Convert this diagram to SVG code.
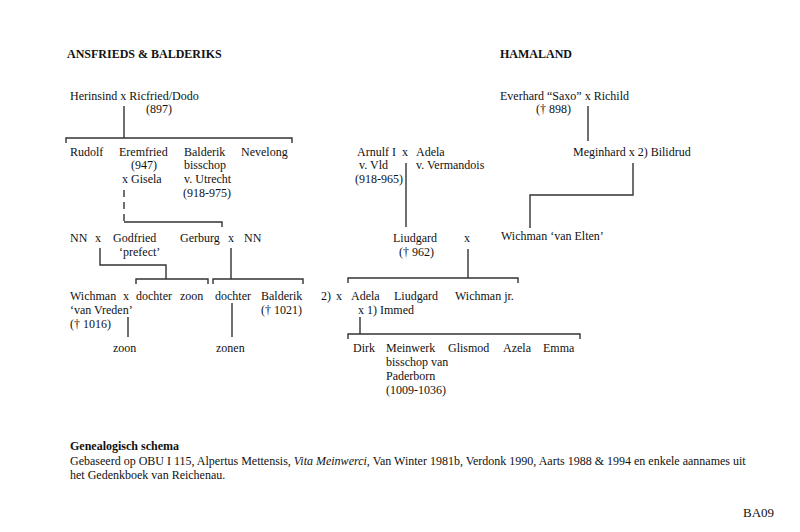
<svg xmlns="http://www.w3.org/2000/svg" width="800" height="532" viewBox="0 0 800 532">
<style>
text{font-family:"Liberation Serif","Times New Roman",serif;font-size:12px;fill:#111}
.b{font-weight:bold}
.ln{stroke:#333;stroke-width:1.4;fill:none}
.d{stroke-dasharray:7 5}
</style>
<rect width="800" height="532" fill="#fff"/>
<text class="b" x="67" y="58">ANSFRIEDS &amp; BALDERIKS</text>
<text class="b" x="500" y="58">HAMALAND</text>

<g id="connectors">
<path class="ln" d="M124 106V138M66 143V138H292V143"/>
<path class="ln d" d="M124 190V222"/>
<path class="ln" d="M124 222H222V227"/>
<path class="ln" d="M100 248V265H166V279M136 284V279H208V284"/>
<path class="ln" d="M231 248V279M213 284V279H303V284"/>
<path class="ln" d="M128 317V337M232 303V337"/>
<path class="ln" d="M588 106V141"/>
<path class="ln" d="M633 163V195H530V228"/>
<path class="ln" d="M406 163V227"/>
<path class="ln" d="M468 249V278M348 283V278H518V283"/>
<path class="ln" d="M360 317V334M348 339V334H580V339"/>
</g>

<g id="herinsind"><text x="70" y="100">Herinsind x Ricfried/Dodo</text><text x="146" y="113">(897)</text></g>
<g id="rudolf"><text x="70" y="156">Rudolf</text></g>
<g id="eremfried"><text x="119" y="156">Eremfried</text><text x="131" y="169">(947)</text><text x="122" y="183">x Gisela</text></g>
<g id="balderik1"><text x="184" y="156">Balderik</text><text x="184" y="169">bisschop</text><text x="184" y="183">v. Utrecht</text><text x="183" y="197">(918-975)</text></g>
<g id="nevelong"><text x="241" y="156">Nevelong</text></g>
<g id="godfried"><text x="70" y="242">NN</text><text x="95" y="242">x</text><text x="113" y="242">Godfried</text><text x="119" y="256">‘prefect’</text></g>
<g id="gerburg"><text x="180" y="242">Gerburg</text><text x="228" y="242">x</text><text x="244" y="242">NN</text></g>
<g id="wichman-vreden"><text x="70" y="300">Wichman</text><text x="123" y="300">x</text><text x="70" y="314">‘van Vreden’</text><text x="70" y="328">(† 1016)</text></g>
<g id="dochter1"><text x="136" y="300">dochter</text></g>
<g id="zoon1"><text x="180" y="300">zoon</text></g>
<g id="dochter2"><text x="215" y="300">dochter</text></g>
<g id="balderik2"><text x="261" y="300">Balderik</text><text x="261" y="314">(† 1021)</text></g>
<g id="zoon2"><text x="113" y="352">zoon</text></g>
<g id="zonen"><text x="216" y="352">zonen</text></g>

<g id="everhard"><text x="500" y="100">Everhard “Saxo” x Richild</text><text x="536" y="113">(† 898)</text></g>
<g id="meginhard"><text x="573" y="156">Meginhard x 2) Bilidrud</text></g>
<g id="wichman-elten"><text x="501" y="240">Wichman ‘van Elten’</text></g>
<g id="arnulf"><text x="357" y="156">Arnulf I</text><text x="402" y="156">x</text><text x="359" y="169">v. Vld</text><text x="355" y="183">(918-965)</text></g>
<g id="adela1"><text x="416" y="156">Adela</text><text x="416" y="169">v. Vermandois</text></g>
<g id="liudgard"><text x="393" y="242">Liudgard</text><text x="399" y="256">(† 962)</text><text x="464" y="242">x</text></g>
<g id="adela2"><text x="321" y="300">2)</text><text x="336" y="300">x</text><text x="351" y="300">Adela</text><text x="358" y="314">x 1) Immed</text></g>
<g id="liudgard2"><text x="394" y="300">Liudgard</text></g>
<g id="wichman-jr"><text x="455" y="300">Wichman jr.</text></g>
<g id="dirk"><text x="353" y="352">Dirk</text></g>
<g id="meinwerk"><text x="386" y="352">Meinwerk</text><text x="386" y="366">bisschop van</text><text x="386" y="380">Paderborn</text><text x="386" y="394">(1009-1036)</text></g>
<g id="glismod"><text x="448" y="352">Glismod</text></g>
<g id="azela"><text x="503" y="352">Azela</text></g>
<g id="emma"><text x="543" y="352">Emma</text></g>

<text class="b" x="70" y="450">Genealogisch schema</text>
<text x="70" y="465">Gebaseerd op OBU I 115, Alpertus Mettensis, <tspan font-style="italic">Vita Meinwerci</tspan>, Van Winter 1981b, Verdonk 1990, Aarts 1988 &amp; 1994 en enkele aannames uit</text>
<text x="70" y="479">het Gedenkboek van Reichenau.</text>
<text x="743" y="517" style="font-size:13px">BA09</text>
</svg>
